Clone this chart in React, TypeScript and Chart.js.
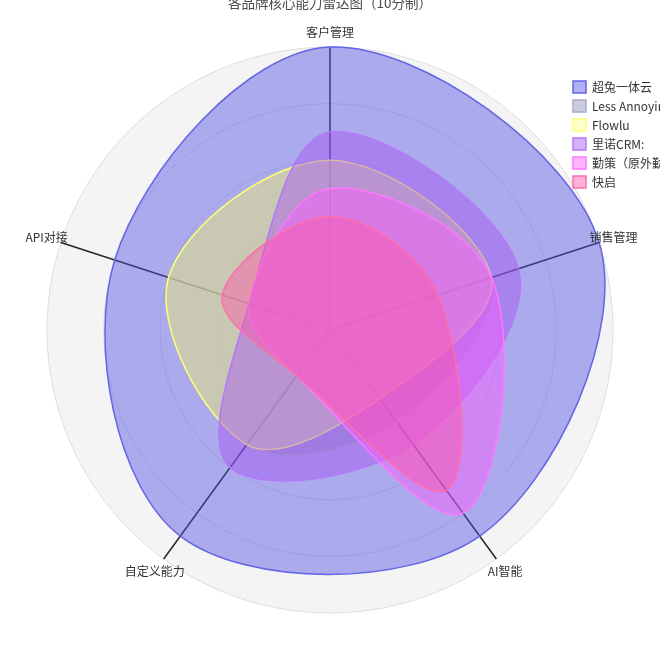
import { useEffect, useRef } from "react"
import { Chart, registerables } from "chart.js"

Chart.register(...registerables)

// Radar axes and series (scores out of 10)
const indicators = ["客户管理", "销售管理", "AI智能", "自定义能力", "API对接"]
const brands = ["超兔一体云", "Less Annoying CRM", "Flowlu", "里诺CRM:", "勤策（原外勤365）", "快启"]

const chaotuScores = [10, 10, 9, 9, 8]
const lessAnnoyingScores = [6, 6, 4, 5, 6]
const flowluScores = [6, 6, 3, 5, 6]
const linuoScores = [7, 7, 5, 6, 3]
const qinceScores = [5, 6, 8, 2, 3]
const kuaiqiScores = [4, 4, 7, 2, 4]

const scoreMin = 0
const scoreMax = 10
const scoreStep = 2

const seriesScores = [chaotuScores, lessAnnoyingScores, flowluScores, linuoScores, qinceScores, kuaiqiScores]

const fillColors = [
  "rgba(80, 80, 226, 0.45)",
  "rgba(140, 140, 185, 0.45)",
  "rgba(255, 255, 140, 0.45)",
  "rgba(166, 84, 244, 0.45)",
  "rgba(255, 88, 255, 0.45)",
  "rgba(255, 84, 166, 0.45)",
]
const lineColors = ["#6464e6", "#aaaac8", "#ffff78", "#b478f8", "#ff78ff", "#ff6eaa"]

const FONT = '"Noto Sans CJK SC", "Noto Sans", sans-serif'
Chart.defaults.font.family = FONT

// axis names centred just outside the outer ring
const indicatorNames = {
  id: "indicatorNames",
  afterDraw(chart: any) {
    const scale = chart.scales.r
    const ctx = chart.ctx
    ctx.save()
    ctx.font = `12px ${FONT}`
    ctx.fillStyle = "#333"
    ctx.textAlign = "center"
    ctx.textBaseline = "middle"
    chart.data.labels.forEach((label: string, i: number) => {
      const p = scale.getPointPosition(i, scale.drawingArea + 15)
      ctx.fillText(label, p.x, p.y)
    })
    ctx.restore()
  },
}

// move the legend into the top-right corner, over the plot
const legendCorner = {
  id: "legendCorner",
  afterLayout(chart: any) {
    const legend = chart.legend
    if (!legend) return
    legend.left = 566
    legend.top = 79
    legend.right = 760
    legend.bottom = 660
  },
}

export default function App() {
  const chartRef = useRef<HTMLCanvasElement>(null)
  const chartInstance = useRef<Chart | null>(null)

  useEffect(() => {
    if (!chartRef.current) return
    if (chartInstance.current) chartInstance.current.destroy()

    const ctx = chartRef.current.getContext("2d")
    if (!ctx) return

    const datasets = brands.map((name, i) => ({
      label: name,
      data: seriesScores[i],
      backgroundColor: fillColors[i],
      borderColor: lineColors[i],
      borderWidth: 1.5,
      fill: true,
      tension: 0.36,
      pointRadius: 0,
      pointHoverRadius: 0,
      clip: false as const,
      order: brands.length - i,
    }))

    chartInstance.current = new Chart(ctx, {
      type: "radar",
      data: { labels: indicators, datasets },
      options: {
        responsive: false,
        animation: false,
        layout: { padding: { top: 0, left: 47, right: 47, bottom: 46 } },
        elements: { line: { capBezierPoints: false } },
        scales: {
          r: {
            min: scoreMin,
            max: scoreMax,
            backgroundColor: "#f4f4f4",
            ticks: { display: false, stepSize: scoreStep },
            pointLabels: { display: false },
            grid: { circular: true, color: "#dedede", lineWidth: 1 },
            angleLines: { color: "#262626", lineWidth: 1.5 },
          },
        },
        plugins: {
          title: {
            display: true,
            text: "各品牌核心能力雷达图（10分制）",
            color: "#4a4a4a",
            font: { size: 13.5, weight: "normal" },
            padding: { top: 0, bottom: 35.8 },
          },
          legend: {
            position: "chartArea",
            align: "start",
            labels: {
              boxWidth: 13,
              boxHeight: 12,
              padding: 7,
              color: "#333",
              font: { size: 12 },
              sort: (a: any, b: any) => a.datasetIndex - b.datasetIndex,
            },
          },
          tooltip: { enabled: false },
        },
      },
      plugins: [indicatorNames, legendCorner],
    })

    return () => {
      if (chartInstance.current) {
        chartInstance.current.destroy()
        chartInstance.current = null
      }
    }
  }, [])

  return (
    <div style={{ position: "absolute", left: 0, top: -5, width: 660, height: 664 }}>
      <canvas ref={chartRef} width={660} height={664} style={{ display: "block" }}></canvas>
    </div>
  )
}
